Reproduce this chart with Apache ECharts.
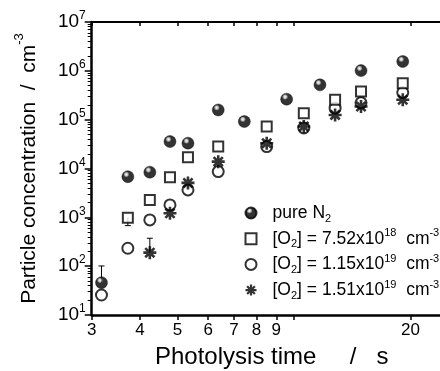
<!DOCTYPE html>
<html><head><meta charset="utf-8">
<script src="https://cdn.jsdelivr.net/npm/echarts@6/dist/echarts.min.js"></script>
<style>html,body{margin:0;padding:0;background:#fff}#c{width:440px;height:371px}</style>
</head><body><div id="c"></div>
<script>
// ---- data ----
var pureX = [3.18, 3.72, 4.24, 4.78, 5.32, 6.37, 7.44, 9.57, 11.67, 14.9, 19.1];
var pureY = [46, 6800, 8400, 35600, 33000, 158000, 91400, 263000, 516000, 1010000, 1550000];
var o2aX = [3.72, 4.24, 4.78, 5.32, 6.37, 8.5, 10.6, 12.77, 14.9, 19.1];
var o2aY = [986, 2275, 6640, 17000, 28100, 72300, 136000, 255000, 377000, 560000];
var o2bX = [3.18, 3.72, 4.24, 4.78, 5.32, 6.37, 8.5, 10.6, 12.77, 14.9, 19.1];
var o2bY = [25.7, 233, 885, 1795, 3640, 8650, 28100, 67900, 172000, 221000, 360000];
var o2cX = [4.24, 4.78, 5.32, 6.37, 8.5, 10.6, 12.77, 14.9, 19.1];
var o2cY = [189, 1214, 5070, 13800, 33000, 72300, 125000, 186000, 255000];
// error bars: x, value, bar end
var errX = [3.18, 3.72, 4.24];
var errFrom = [46, 986, 189];
var errTo = [101, 676, 373];
// axis ticks / labels
var xLabelValues = [3, 4, 5, 6, 7, 8, 9, 20];
var xTickValues = [3, 4, 5, 6, 7, 8, 9, 10, 20];
var yDecades = [10, 100, 1000, 10000, 100000, 1000000];
var yMinorMultipliers = [2, 3, 4, 5, 6, 7, 8, 9];
var xTitle = 'Photolysis time     /   s';
var seriesNames = ['pure', 'o2a', 'o2b', 'o2c'];
var legendTexts = {
  pure: 'pure N{sub|2}',
  o2a: '[O{sub|2}] = 7.52x10{sup|18}  cm{sup|-3}',
  o2b: '[O{sub|2}] = 1.15x10{sup|19}  cm{sup|-3}',
  o2c: '[O{sub|2}] = 1.51x10{sup|19}  cm{sup|-3}'
};

function zip(a, b) { return a.map(function (v, i) { return [v, b[i]]; }); }
var yMinorTicks = [];
yDecades.forEach(function (d) { yMinorMultipliers.forEach(function (m) { yMinorTicks.push(m * d); }); });

var FONT = '"Liberation Sans", Arial, sans-serif';
var star = 'path://M-50 -10 L50 -10 L50 10 L-50 10 Z M10 -50 L10 50 L-10 50 L-10 -50 Z M-28.3 -42.4 L42.4 28.3 L28.3 42.4 L-42.4 -28.3 Z M-42.4 28.3 L28.3 -42.4 L42.4 -28.3 L-28.3 42.4 Z';
var square = 'path://M0 0 L10 0 L10 10 L0 10 Z';
var ball = {type: 'radial', x: 0.38, y: 0.32, r: 0.7, colorStops: [
  {offset: 0, color: '#ffffff'}, {offset: 0.18, color: '#aaa'}, {offset: 0.34, color: '#000'}, {offset: 1, color: '#000'}]};

var chart = echarts.init(document.getElementById('c'), null, {renderer: 'canvas'});
var xBase = {
  type: 'log', logBase: 10, min: 3, max: 23.84, gridIndex: 0,
  splitLine: {show: false}, minorTick: {show: false}
};
chart.setOption({
  animation: false,
  backgroundColor: '#fff',
  title: {
    text: xTitle, left: 155, top: 345, padding: 0,
    textStyle: {fontFamily: FONT, fontSize: 24, fontWeight: 'normal', color: '#000'}
  },
  grid: {left: 91.7, right: 0, top: 22, bottom: 56, containLabel: false, outerBoundsContain: 'axisLabel'},
  legend: {
    orient: 'vertical', left: 244.5, top: 202, padding: 0, itemWidth: 11, itemHeight: 11, itemGap: 3.7,
    data: seriesNames,
    formatter: function (n) { return legendTexts[n]; },
    textStyle: {
      fontFamily: FONT, fontSize: 17.5, color: '#000', lineHeight: 22, padding: [0, 0, 0, 11],
      rich: {
        sub: {fontSize: 11, fontFamily: FONT, verticalAlign: 'bottom', lineHeight: 22},
        sup: {fontSize: 11, fontFamily: FONT, verticalAlign: 'top', lineHeight: 22}
      }
    }
  },
  xAxis: [
    Object.assign({}, xBase, {
      position: 'bottom',
      axisLine: {show: true, onZero: false, lineStyle: {color: '#000', width: 2.5}},
      axisTick: {show: true, inside: false, length: 5, lineStyle: {color: '#000', width: 1.5}, customValues: xTickValues},
      axisLabel: {show: true, margin: 7, fontFamily: FONT, fontSize: 17, color: '#000', customValues: xLabelValues,
        showMinLabel: true, showMaxLabel: true, hideOverlap: false,
        formatter: function (v) { return String(Math.round(v)); }}
    }),
    Object.assign({}, xBase, {
      position: 'top',
      axisLine: {show: true, onZero: false, lineStyle: {color: '#000', width: 2}},
      axisTick: {show: true, inside: true, length: 4, lineStyle: {color: '#000', width: 1.5}, customValues: xTickValues},
      axisLabel: {show: false}
    })
  ],
  yAxis: [{
    type: 'log', logBase: 10, min: 10, max: 1e7, position: 'left',
    name: 'Particle concentration  /  cm{sup|-3}', nameLocation: 'middle', nameGap: 52,
    nameTextStyle: {fontFamily: FONT, fontSize: 21, color: '#000',
      rich: {sup: {fontFamily: FONT, fontSize: 13, verticalAlign: 'top', padding: [-6, 0, 0, 0]}}},
    axisLine: {show: true, onZero: false, lineStyle: {color: '#000', width: 2.5}},
    axisTick: {show: true, inside: false, length: 7, lineStyle: {color: '#000', width: 1.5}},
    minorTick: {show: false},
    splitLine: {show: false},
    axisLabel: {
      margin: 6, fontFamily: FONT, fontSize: 19, color: '#000', lineHeight: 24,
      formatter: function (v) { return '10{sup|' + Math.round(Math.log10(v)) + '}'; },
      rich: {sup: {fontFamily: FONT, fontSize: 12, verticalAlign: 'top', lineHeight: 24}}
    }
  }, {
    type: 'log', logBase: 10, min: 10, max: 1e7, position: 'left', offset: 0,
    axisLine: {show: false},
    axisTick: {show: true, inside: false, length: 4, lineStyle: {color: '#000', width: 1}, customValues: yMinorTicks},
    axisLabel: {show: false}, splitLine: {show: false}, minorTick: {show: false}
  }],
  series: [
    {
      type: 'custom', name: 'err', xAxisIndex: 0, yAxisIndex: 0, z: 1, silent: true,
      data: errX.map(function (x, i) { return [x, errFrom[i], errTo[i]]; }),
      renderItem: function (params, api) {
        var a = api.coord([api.value(0), api.value(1)]);
        var b = api.coord([api.value(0), api.value(2)]);
        var st = {stroke: '#000', lineWidth: 1};
        return {type: 'group', children: [
          {type: 'line', shape: {x1: a[0], y1: a[1], x2: b[0], y2: b[1]}, style: st},
          {type: 'line', shape: {x1: b[0] - 3, y1: b[1], x2: b[0] + 3, y2: b[1]}, style: st}
        ]};
      }
    },
    {type: 'scatter', name: 'pure', xAxisIndex: 0, yAxisIndex: 0, z: 5, symbol: 'circle', symbolSize: 12,
      itemStyle: {color: ball, borderColor: '#000', borderWidth: 0.5}, data: zip(pureX, pureY)},
    {type: 'scatter', name: 'o2a', xAxisIndex: 0, yAxisIndex: 0, z: 4, symbol: square, symbolSize: 10,
      itemStyle: {color: '#fff', borderColor: '#000', borderWidth: 2}, data: zip(o2aX, o2aY)},
    {type: 'scatter', name: 'o2b', xAxisIndex: 0, yAxisIndex: 0, z: 3, symbol: 'circle', symbolSize: 11,
      itemStyle: {color: '#fff', borderColor: '#000', borderWidth: 2}, data: zip(o2bX, o2bY)},
    {type: 'scatter', name: 'o2c', xAxisIndex: 0, yAxisIndex: 0, z: 6, symbol: star, symbolSize: 13,
      itemStyle: {color: '#000'}, data: zip(o2cX, o2cY)}
  ]
});
</script></body></html>
